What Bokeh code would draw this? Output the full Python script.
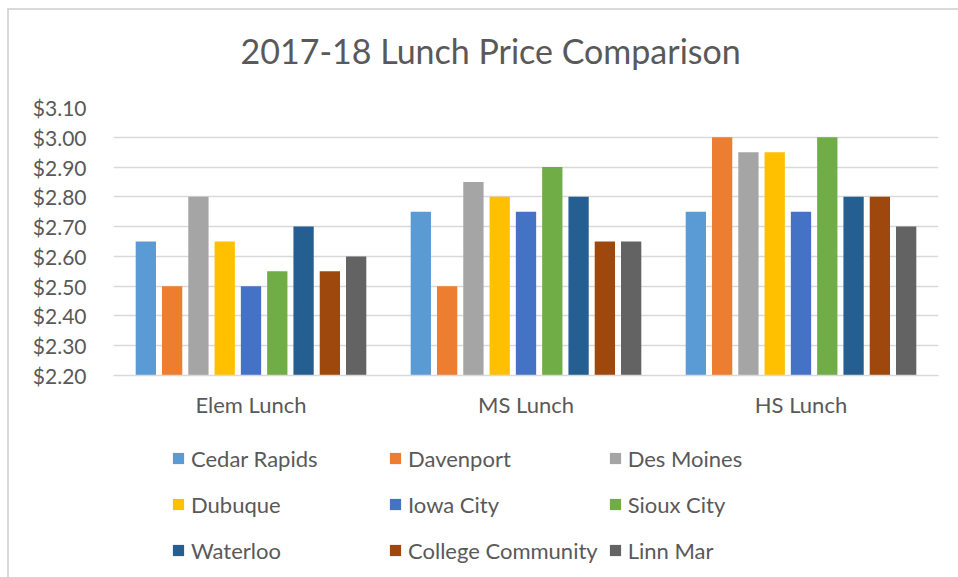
from bokeh.plotting import figure
from bokeh.layouts import column
from bokeh.models import (FactorRange, Range1d, NumeralTickFormatter, FixedTicker,
                          Legend, LegendItem, ColumnDataSource)
from bokeh.transform import dodge
from bokeh.embed import file_html
from bokeh.resources import INLINE

# ---- data ----
categories = ["Elem Lunch", "MS Lunch", "HS Lunch"]
series_names = ["Cedar Rapids", "Davenport", "Des Moines", "Dubuque", "Iowa City",
                "Sioux City", "Waterloo", "College Community", "Linn Mar"]
cedar_rapids = [2.65, 2.75, 2.75]
davenport = [2.50, 2.50, 3.00]
des_moines = [2.80, 2.85, 2.95]
dubuque = [2.65, 2.80, 2.95]
iowa_city = [2.50, 2.75, 2.75]
sioux_city = [2.55, 2.90, 3.00]
waterloo = [2.70, 2.80, 2.80]
college_community = [2.55, 2.65, 2.80]
linn_mar = [2.60, 2.65, 2.70]
series_values = [cedar_rapids, davenport, des_moines, dubuque, iowa_city,
                 sioux_city, waterloo, college_community, linn_mar]
y_ticks = [2.20, 2.30, 2.40, 2.50, 2.60, 2.70, 2.80, 2.90, 3.00, 3.10]
y_min, y_max = 2.20, 3.10
chart_title = "2017-18 Lunch Price Comparison"

colors = ["#5B9BD5", "#ED7D31", "#A5A5A5", "#FFC000", "#4472C4",
          "#70AD47", "#255E91", "#9E480E", "#636363"]

FONT = "Lato"
TEXT = "#595959"
GRID = "#D9D9D9"

data = {"cat": categories}
for i, vals in enumerate(series_values):
    data[f"s{i}"] = vals
source = ColumnDataSource(data=data)

# ---- title strip ----
t = figure(x_range=Range1d(0, 1), y_range=Range1d(0, 1),
           width=949, height=82, output_backend="svg", toolbar_location=None,
           x_axis_location=None, y_axis_location=None,
           min_border_left=104, min_border_right=20, min_border_top=60,
           min_border_bottom=0)
t.xgrid.grid_line_color = None
t.ygrid.grid_line_color = None
t.outline_line_color = None
t.title.text = chart_title
t.title.text_font = FONT
t.title.text_font_size = "34px"
t.title.text_font_style = "normal"
t.title.text_color = TEXT
t.title.align = "left"
t.title.offset = 127
t.title.standoff = 0

# ---- chart ----
p = figure(x_range=FactorRange(*categories), y_range=Range1d(y_min, y_max),
           width=949, height=338, output_backend="svg", toolbar_location=None,
           min_border_left=104, min_border_right=20, min_border_top=15,
           min_border_bottom=55)

pitch = 0.0956
bar_w = 0.0738
n = len(series_names)
for i, name in enumerate(series_names):
    off = (i - (n - 1) / 2) * pitch
    p.vbar(x=dodge("cat", off, range=p.x_range), top=f"s{i}", bottom=y_min,
           width=bar_w, source=source, fill_color=colors[i], line_color=None)

p.x_range.range_padding = 0
p.xgrid.grid_line_color = None
p.ygrid.grid_line_color = GRID
p.ygrid.grid_line_width = 1.5
p.ygrid.ticker = FixedTicker(ticks=y_ticks)
p.outline_line_color = None

p.yaxis.ticker = FixedTicker(ticks=y_ticks)
p.yaxis.formatter = NumeralTickFormatter(format="$0.00")
p.yaxis.axis_line_color = None
p.yaxis.major_tick_line_color = None
p.yaxis.minor_tick_line_color = None
p.yaxis.major_tick_out = 0
p.yaxis.major_label_standoff = 27
p.yaxis.major_label_text_font = FONT
p.yaxis.major_label_text_font_size = "21px"
p.yaxis.major_label_text_color = TEXT

p.xaxis.axis_line_color = GRID
p.xaxis.axis_line_width = 1.5
p.xaxis.major_tick_line_color = None
p.xaxis.minor_tick_line_color = None
p.xaxis.major_tick_out = 0
p.xaxis.major_label_standoff = 15
p.xaxis.major_label_text_font = FONT
p.xaxis.major_label_text_font_size = "22px"
p.xaxis.major_label_text_color = TEXT

# ---- legend strip: hidden copies of the series, only their legend shows ----
q = figure(x_range=FactorRange(*categories), y_range=Range1d(y_min, y_max),
           width=949, height=147, output_backend="svg", toolbar_location=None,
           x_axis_location=None, y_axis_location=None,
           min_border_left=0, min_border_right=0, min_border_top=0,
           min_border_bottom=0)
q.xgrid.grid_line_color = None
q.ygrid.grid_line_color = None
q.outline_line_color = None
legend_renderers = []
for i, name in enumerate(series_names):
    r = q.vbar(x="cat", top=f"s{i}", bottom=y_min, width=bar_w, source=source,
               fill_color=colors[i], line_color=None, visible=False)
    legend_renderers.append(r)

# legend fills column by column; reorder so rows read left to right
order = [0, 3, 6, 1, 4, 7, 2, 5, 8]
items = [LegendItem(label=series_names[k], renderers=[legend_renderers[k]]) for k in order]
legend = Legend(items=items, ncols=3, location=(58, 9),
                glyph_width=14, glyph_height=14, label_standoff=6,
                label_width=187, label_height=36, spacing=10,
                padding=0, margin=0, border_line_color=None,
                background_fill_alpha=0, inactive_fill_alpha=0,
                click_policy="none",
                label_text_font=FONT, label_text_font_size="22px",
                label_text_color=TEXT)
q.add_layout(legend, "center")

layout = column(t, p, q, spacing=0,
                styles={"margin-left": "7px", "margin-top": "8px",
                        "border-top": "2px solid #D9D9D9",
                        "border-left": "2px solid #D9D9D9"})

open("out.html", "w").write(file_html(layout, INLINE))
